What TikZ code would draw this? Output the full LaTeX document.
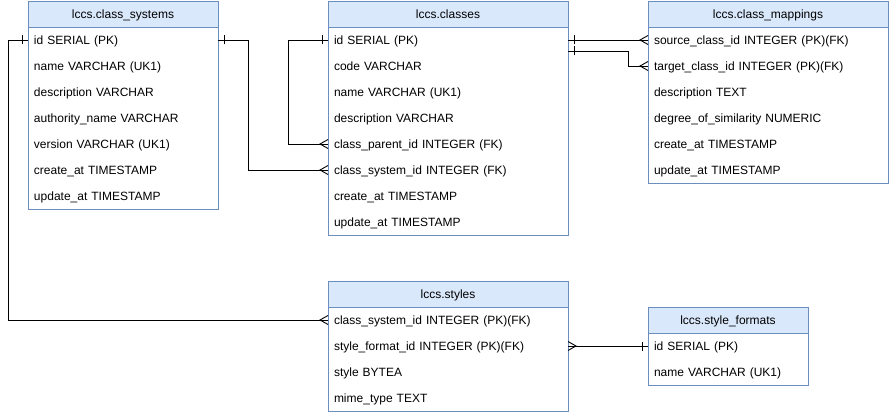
\documentclass[tikz,border=0pt]{standalone}
\usepackage{fontspec}
\setmainfont{Liberation Sans}
\usetikzlibrary{decorations.markings}

\definecolor{headfill}{HTML}{DAE8FC}
\definecolor{headline}{HTML}{6C8EBF}

\tikzset{
  tblhead/.style={draw=headline, fill=headfill, minimum height=26pt, inner sep=0pt, outer sep=0pt, text height=8.6pt, text depth=0pt, anchor=north west},
  tblbody/.style={draw=headline, fill=white, inner sep=0pt, outer sep=0pt, anchor=north west},
  tblrow/.style={minimum height=26pt, inner xsep=6pt, inner ysep=0pt, outer sep=0pt, text height=8.6pt, text depth=0pt, align=left, anchor=west},
  link/.style={draw=black, line width=0.9pt},
  one start/.style={postaction={decorate, decoration={markings, mark=at position 0 with {\draw[line width=0.9pt] (6pt,-4.5pt) -- (6pt,4.5pt);}}}},
  one end/.style={postaction={decorate, decoration={markings, mark=at position 1 with {\draw[line width=0.9pt] (-6pt,-4.5pt) -- (-6pt,4.5pt);}}}},
  many start/.style={postaction={decorate, decoration={markings, mark=at position 0 with {\draw[line width=0.9pt] (0pt,-4.5pt) -- (8pt,0pt) -- (0pt,4.5pt);}}}},
  many end/.style={postaction={decorate, decoration={markings, mark=at position 1 with {\draw[line width=0.9pt] (0pt,-4.5pt) -- (-8pt,0pt) -- (0pt,4.5pt);}}}}
}

\begin{document}
\begin{tikzpicture}[x=1pt, y=-1pt, font=\fontsize{12pt}{14pt}\selectfont]
\useasboundingbox (0,0) rectangle (889,414);

% lccs.class_systems
\node[tblhead, minimum width=190pt] (cs) at (28,1) {lccs.class\_systems};
\node[tblbody, minimum width=190pt, minimum height=182pt] (csb) at (cs.south west) {};
\foreach \n/\t [count=\i] in {id/id SERIAL (PK), name/name VARCHAR (UK1), desc/description VARCHAR, auth/authority\_name VARCHAR, ver/version VARCHAR (UK1), cre/create\_at TIMESTAMP, upd/update\_at TIMESTAMP}
  \node[tblrow, text width=178pt] (cs-\n) at ([yshift={(-26*\i+13)*1pt}]cs.south west) {\t};

% lccs.classes
\node[tblhead, minimum width=240pt] (cl) at (328,1) {lccs.classes};
\node[tblbody, minimum width=240pt, minimum height=208pt] (clb) at (cl.south west) {};
\foreach \n/\t [count=\i] in {id/id SERIAL (PK), code/code VARCHAR, name/name VARCHAR (UK1), desc/description VARCHAR, parent/class\_parent\_id INTEGER (FK), csid/class\_system\_id INTEGER (FK), cre/create\_at TIMESTAMP, upd/update\_at TIMESTAMP}
  \node[tblrow, text width=228pt] (cl-\n) at ([yshift={(-26*\i+13)*1pt}]cl.south west) {\t};

% lccs.class_mappings
\node[tblhead, minimum width=240pt] (cm) at (648,1) {lccs.class\_mappings};
\node[tblbody, minimum width=240pt, minimum height=156pt] (cmb) at (cm.south west) {};
\foreach \n/\t [count=\i] in {src/source\_class\_id INTEGER (PK)(FK), tgt/target\_class\_id INTEGER (PK)(FK), desc/description TEXT, deg/degree\_of\_similarity NUMERIC, cre/create\_at TIMESTAMP, upd/update\_at TIMESTAMP}
  \node[tblrow, text width=228pt] (cm-\n) at ([yshift={(-26*\i+13)*1pt}]cm.south west) {\t};

% lccs.styles
\node[tblhead, minimum width=240pt] (st) at (328,281) {lccs.styles};
\node[tblbody, minimum width=240pt, minimum height=104pt] (stb) at (st.south west) {};
\foreach \n/\t [count=\i] in {csid/class\_system\_id INTEGER (PK)(FK), fmt/style\_format\_id INTEGER (PK)(FK), sty/style BYTEA, mime/mime\_type TEXT}
  \node[tblrow, text width=228pt] (st-\n) at ([yshift={(-26*\i+13)*1pt}]st.south west) {\t};

% lccs.style_formats
\node[tblhead, minimum width=160pt] (sf) at (648,307) {lccs.style\_formats};
\node[tblbody, minimum width=160pt, minimum height=52pt] (sfb) at (sf.south west) {};
\foreach \n/\t [count=\i] in {id/id SERIAL (PK), name/name VARCHAR (UK1)}
  \node[tblrow, text width=148pt] (sf-\n) at ([yshift={(-26*\i+13)*1pt}]sf.south west) {\t};

% relations
\draw[link, one start, many end] (cs-id.west) -- ++(-20,0) |- (st-csid.west);
\draw[link, one start, many end] (cs-id.east) -- ++(30,0) |- (cl-csid.west);
\draw[link, one start, many end] (cl-id.west) -- ++(-40,0) |- (cl-parent.west);
\draw[link, one start, many end] (cl-id.east) -- (cm-src.west);
\draw[link, one start, many end] ([yshift=-11pt]cl-id.east) -- ++(60,0) |- (cm-tgt.west);
\draw[link, many start, one end] (st-fmt.east) -- (sf-id.west);
\end{tikzpicture}
\end{document}
